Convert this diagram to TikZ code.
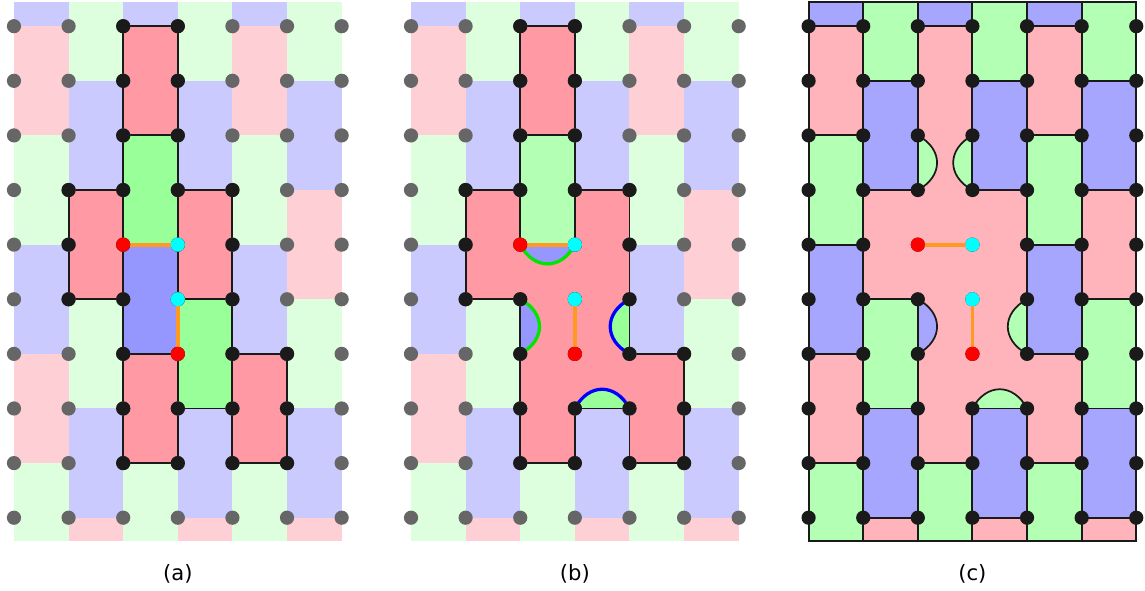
\documentclass[tikz,border=0pt]{standalone}
\usepackage{fontspec}
\setsansfont{DejaVu Sans}
\definecolor{bgP}{RGB}{255,207,214}
\definecolor{bgG}{RGB}{221,255,221}
\definecolor{bgB}{RGB}{202,202,255}
\definecolor{hP}{RGB}{255,153,164}
\definecolor{hG}{RGB}{153,255,153}
\definecolor{hB}{RGB}{150,150,255}
\definecolor{mG}{RGB}{179,255,179}
\definecolor{cP}{RGB}{255,179,186}
\definecolor{cG}{RGB}{179,255,179}
\definecolor{cB}{RGB}{166,166,255}
\definecolor{dotgray}{RGB}{102,102,102}
\definecolor{dotblack}{RGB}{26,26,26}
\definecolor{dotred}{RGB}{255,0,0}
\definecolor{dotcyan}{RGB}{0,255,255}
\definecolor{edgeorange}{RGB}{255,153,34}
\definecolor{arcgreen}{RGB}{0,230,0}
\definecolor{arcblue}{RGB}{0,0,255}
\tikzset{
  bgbrick/.style={},
  cbrick/.style={draw=dotblack,line width=1pt},
  outline/.style={draw=dotblack,line width=1pt,line join=round},
  graydot/.style={fill=dotgray},
  blackdot/.style={fill=dotblack},
  reddot/.style={fill=dotred},
  cyandot/.style={fill=dotcyan},
  specialedge/.style={draw=edgeorange,line width=2pt},
  colarc/.style={line width=1.7pt},
  thinarc/.style={draw=dotblack,line width=0.9pt},
  panellabel/.style={font=\fontsize{11}{13}\selectfont\sffamily,inner sep=0pt}
}
\newcommand\dotr{0.13}
\newcommand\brickfield[4]{%
  \foreach \c in {0,2,4} {
    \path[#1,fill=#4] (\c,9) rectangle (\c+1,9.45);
    \path[#1,fill=#2] (\c,7) rectangle (\c+1,9);
    \path[#1,fill=#3] (\c,5) rectangle (\c+1,7);
    \path[#1,fill=#4] (\c,3) rectangle (\c+1,5);
    \path[#1,fill=#2] (\c,1) rectangle (\c+1,3);
    \path[#1,fill=#3] (\c,-0.42) rectangle (\c+1,1);
  }
  \foreach \c in {1,3,5} {
    \path[#1,fill=#3] (\c,8) rectangle (\c+1,9.45);
    \path[#1,fill=#4] (\c,6) rectangle (\c+1,8);
    \path[#1,fill=#2] (\c,4) rectangle (\c+1,6);
    \path[#1,fill=#3] (\c,2) rectangle (\c+1,4);
    \path[#1,fill=#4] (\c,0) rectangle (\c+1,2);
    \path[#1,fill=#2] (\c,-0.42) rectangle (\c+1,0);
  }%
}
% vertical lune: chord (x,y)-(x,y+1), bulge s (signed, to the right if positive)
\newcommand\vlunepath[3]{(#1,#2) .. controls (#1+#3,#2+0.25) and (#1+#3,#2+0.75) .. (#1,#2+1)}
\newcommand\hlunepath[3]{(#1,#2) .. controls (#1+0.25,#2+#3) and (#1+0.75,#2+#3) .. (#1+1,#2)}
\newcommand\dotsAB{%
  \foreach \x in {0,...,6} \foreach \y in {0,...,9} \fill[graydot] (\x,\y) circle (\dotr);
  \foreach \x/\y in {1/4,1/5,1/6,4/1,4/2,4/3,4/4,4/5,4/6,5/1,5/2,5/3}
    \fill[blackdot] (\x,\y) circle (\dotr);
  \foreach \y in {1,...,9} {\fill[blackdot] (2,\y) circle (\dotr); \fill[blackdot] (3,\y) circle (\dotr);}
}
\newcommand\specials{%
  \draw[specialedge] (2,5) -- (3,5);
  \draw[specialedge] (3,4) -- (3,3);
  \fill[reddot] (2,5) circle (\dotr);
  \fill[cyandot] (3,5) circle (\dotr);
  \fill[cyandot] (3,4) circle (\dotr);
  \fill[reddot] (3,3) circle (\dotr);
}
\begin{document}
\begin{tikzpicture}
\useasboundingbox (-0.256,-1.324) rectangle (20.71,9.48);

% ---------------- panel (a)
\begin{scope}
  \brickfield{bgbrick}{bgP}{bgG}{bgB}
  \foreach \x/\y/\col in {2/7/hP,2/5/hG,2/3/hB,2/1/hP,1/4/hP,3/4/hP,3/2/hG,4/1/hP}
    \path[outline,fill=\col] (\x,\y) rectangle (\x+1,\y+2);
  \dotsAB
  \specials
  \node[panellabel] (la) at (3,-1.03) {(a)};
\end{scope}

% ---------------- panel (b)
\begin{scope}[xshift=7.27cm]
  \brickfield{bgbrick}{bgP}{bgG}{bgB}
  \path[fill=hP] (1,6) -- (2,6) -- (2,5) -- (3,5) -- (3,6) -- (4,6) -- (4,3) -- (5,3) -- (5,1)
    -- (4,1) -- (4,2) -- (3,2) -- (3,1) -- (2,1) -- (2,4) -- (1,4) -- cycle;
  \fill[hB] \hlunepath{2}{5}{-0.47} -- cycle;
  \fill[hB] \vlunepath{2}{3}{0.47} -- cycle;
  \fill[hG] \vlunepath{4}{3}{-0.47} -- cycle;
  \fill[hG] \hlunepath{3}{2}{0.47} -- cycle;
  \draw[colarc,arcgreen] \hlunepath{2}{5}{-0.47};
  \draw[colarc,arcgreen] \vlunepath{2}{3}{0.47};
  \draw[colarc,arcblue] \vlunepath{4}{3}{-0.47};
  \draw[colarc,arcblue] \hlunepath{3}{2}{0.47};
  \path[outline] (1,6) -- (2,6) -- (2,5) -- (3,5) -- (3,6) -- (4,6) -- (4,3) -- (5,3) -- (5,1)
    -- (4,1) -- (4,2) -- (3,2) -- (3,1) -- (2,1) -- (2,4) -- (1,4) -- cycle;
  \path[outline,fill=mG] (2,5) rectangle (3,7);
  \path[outline,fill=hP] (2,7) rectangle (3,9);
  \dotsAB
  \specials
  \node[panellabel] (lb) at (3,-1.03) {(b)};
\end{scope}

% ---------------- panel (c)
\begin{scope}[xshift=14.55cm]
  \brickfield{cbrick}{cP}{cG}{cB}
  \path[fill=cP] (2,9) -- (3,9) -- (3,6) -- (4,6) -- (4,3) -- (5,3) -- (5,1) -- (4,1) -- (4,2)
    -- (3,2) -- (3,1) -- (2,1) -- (2,4) -- (1,4) -- (1,6) -- (2,6) -- cycle;
  \path[fill=cG,thinarc] \vlunepath{2}{6}{0.47};
  \path[fill=cG,thinarc] \vlunepath{3}{6}{-0.47};
  \path[fill=cB,thinarc] \vlunepath{2}{3}{0.47};
  \path[fill=cG,thinarc] \vlunepath{4}{3}{-0.47};
  \path[fill=cG,thinarc] \hlunepath{3}{2}{0.47};
  \path[outline] (2,9) -- (3,9) -- (3,6) -- (4,6) -- (4,3) -- (5,3) -- (5,1) -- (4,1) -- (4,2)
    -- (3,2) -- (3,1) -- (2,1) -- (2,4) -- (1,4) -- (1,6) -- (2,6) -- cycle;
  \foreach \x in {0,...,6} \foreach \y in {0,...,9} \fill[blackdot] (\x,\y) circle (\dotr);
  \specials
  \node[panellabel] (lc) at (3,-1.03) {(c)};
\end{scope}
\end{tikzpicture}
\end{document}
